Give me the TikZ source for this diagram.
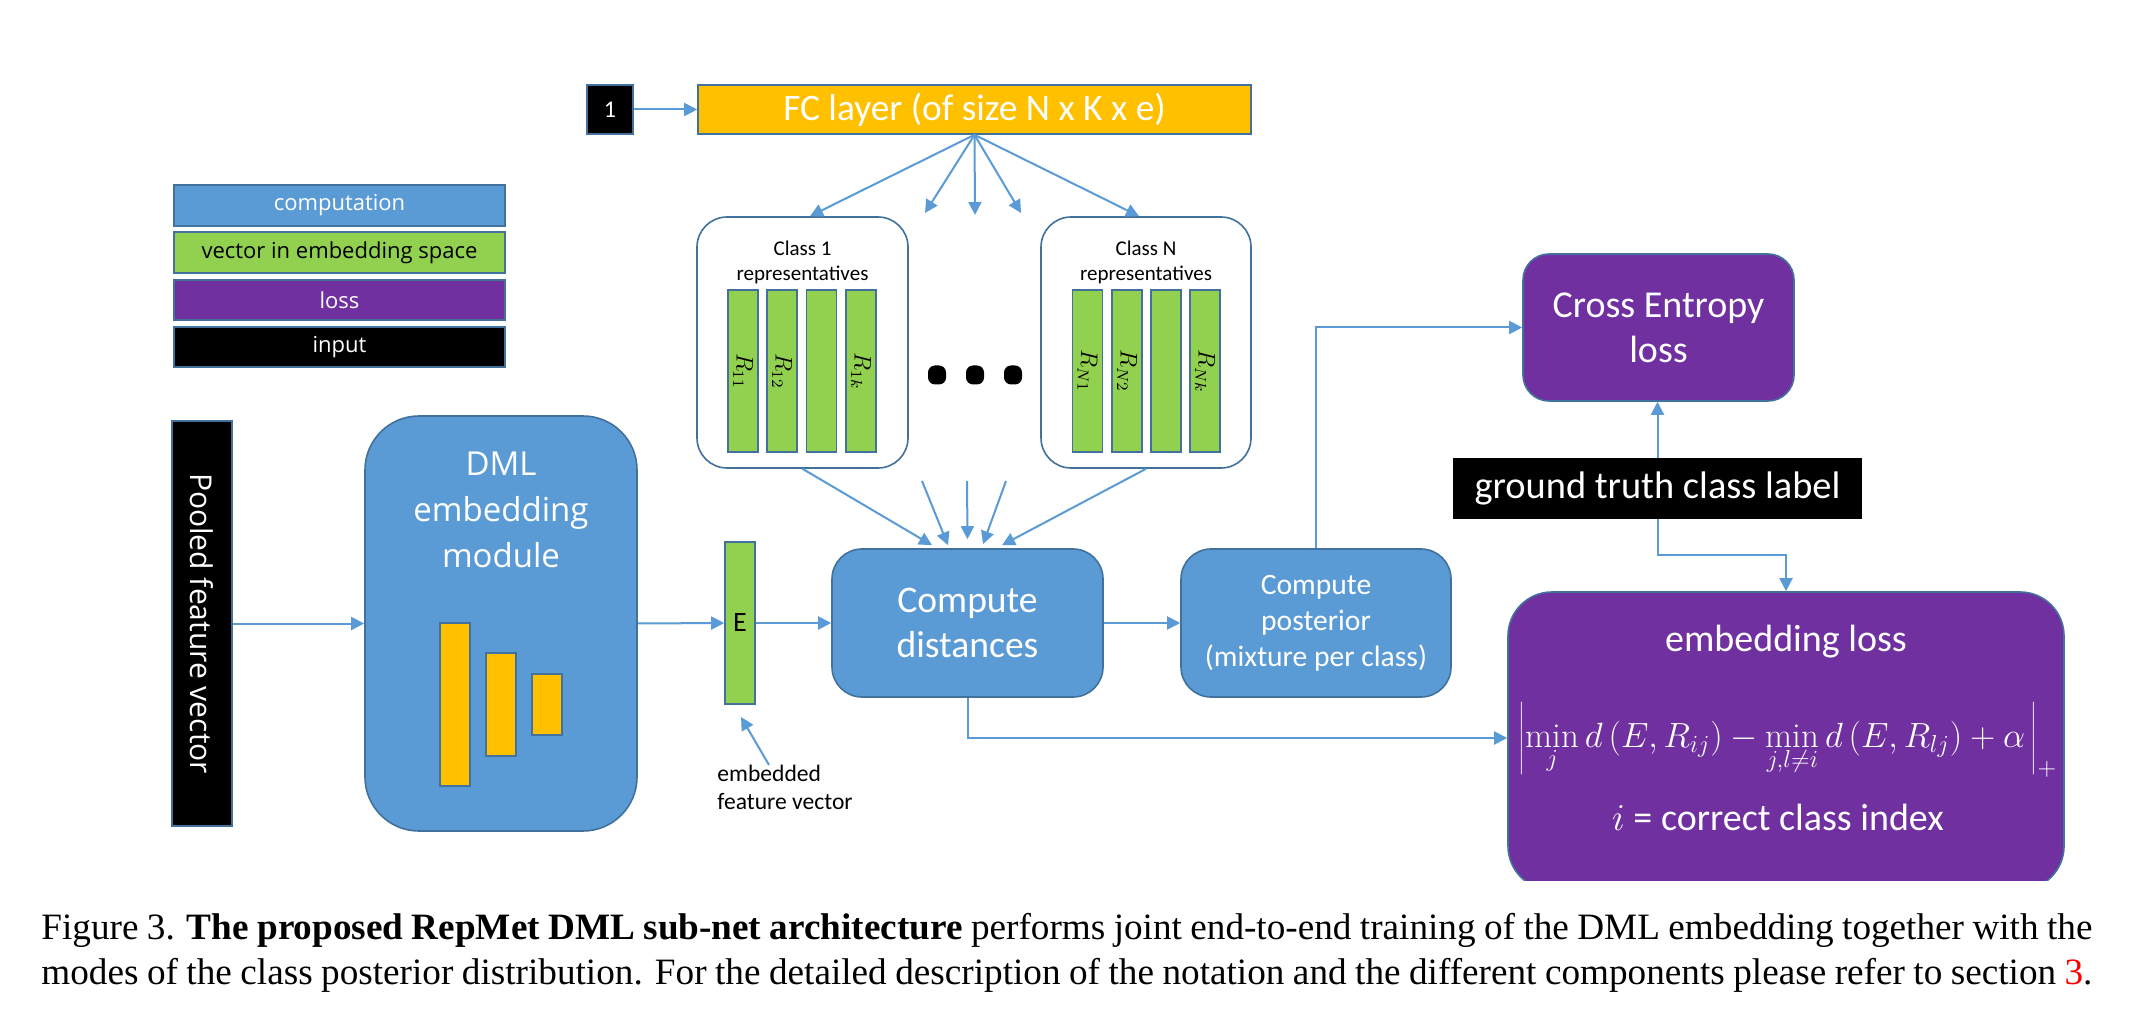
\RequirePackage{fix-cm}
\documentclass[tikz,border=0pt]{standalone}
\usepackage{fontspec}
\usetikzlibrary{arrows.meta,calc}
\newfontfamily\calfont{Carlito}
\newfontfamily\segfont{Open Sans}
\newfontfamily\capfont{Liberation Serif}
\definecolor{cblue}{HTML}{5B9BD5}
\definecolor{cborder}{HTML}{41719C}
\definecolor{cgreen}{HTML}{92D050}
\definecolor{cpurple}{HTML}{7030A0}
\definecolor{corange}{HTML}{FFC000}
\definecolor{carrow}{HTML}{5B9BD5}
\tikzset{
  obox/.style={draw=cborder, line width=0.8pt, inner sep=0pt},
  rbox/.style={draw=cborder, line width=0.8pt, inner sep=0pt},
  arr/.style={draw=carrow, line width=1pt, -{Triangle[length=6.5pt,width=6.5pt]}},
  lnk/.style={draw=carrow, line width=1pt},
  wtxt/.style={text=white, inner sep=0pt, align=center},
}
\begin{document}
\begin{tikzpicture}[x=0.5pt,y=-0.5pt]
\useasboundingbox (0,0) rectangle (2134,1036);
\fill[white] (0,0) rectangle (2134,1036);

% legend
\node[obox, fill=cblue, minimum width=165.5pt, minimum height=20.5pt, text=white, font=\segfont\fontsize{11}{13}\selectfont] (lg1) at (339.5,205.5) {computation};
\node[obox, fill=cgreen, minimum width=165.5pt, minimum height=20.5pt, font=\segfont\fontsize{11}{13}\selectfont] (lg2) at (339.5,252.5) {vector in embedding space};
\node[obox, fill=cpurple, minimum width=165.5pt, minimum height=20pt, text=white, font=\segfont\fontsize{11}{13}\selectfont] (lg3) at (339.5,300) {loss};
\node[obox, fill=black, minimum width=165.5pt, minimum height=20pt, text=white, font=\segfont\fontsize{11}{13}\selectfont] (lg4) at (339.5,347) {input};

% top
\node[obox, fill=black, minimum width=23pt, minimum height=24.5pt, text=white, font=\calfont\fontsize{12}{14}\selectfont] (one) at (610,109.5) {1};
\node[obox, fill=corange, minimum width=276.5pt, minimum height=24.5pt, text=white, font=\calfont\fontsize{18.7}{20}\selectfont] (fc) at (974.5,109.5) {FC layer (of size N x K x e)};

% class boxes
\node[rbox, fill=white, rounded corners=15pt, minimum width=105.5pt, minimum height=125.5pt] (c1) at (802.5,342.5) {};
\node[inner sep=0pt, align=center, font=\calfont\fontsize{10.5}{12.5}\selectfont] (c1t) at (802.5,262) {Class 1\\representatives};
\node[rbox, fill=white, rounded corners=15pt, minimum width=105pt, minimum height=125.5pt] (cN) at (1146,342.5) {};
\node[inner sep=0pt, align=center, font=\calfont\fontsize{10.5}{12.5}\selectfont] (cNt) at (1146,262) {Class N\\representatives};

\tikzset{bar/.style={obox, fill=cgreen, rotate=-90, minimum width=81pt, minimum height=15pt, font=\fontsize{12}{12}\selectfont}}
\node[bar] (r11) at (743,371) {$R_{11}$};
\node[bar] (r12) at (782,371) {$R_{12}$};
\node[bar] (r13) at (821.5,371) {};
\node[bar] (r1k) at (861,371) {$R_{1k}$};
\node[bar] (rn1) at (1087.5,371) {$R_{N1}$};
\node[bar] (rn2) at (1127,371) {$R_{N2}$};
\node[bar] (rn3) at (1166,371) {};
\node[bar] (rnk) at (1205,371) {$R_{Nk}$};

\tikzset{dot/.style={fill=black, rounded corners=3.5pt, minimum width=9pt, minimum height=9.5pt, inner sep=0pt}}
\node[dot] (d1) at (937,375) {};
\node[dot] (d2) at (975,375) {};
\node[dot] (d3) at (1013,375) {};

% left
\node[obox, fill=black, rotate=-90, minimum width=202.5pt, minimum height=30pt, text=white, font=\segfont\fontsize{15}{17}\selectfont] (pool) at (202,623.5) {Pooled feature vector};
\node[rbox, fill=cblue, rounded corners=27pt, minimum width=136pt, minimum height=207.5pt] (dml) at (501,623.5) {};
\node[wtxt, font=\segfont\fontsize{16.5}{23}\selectfont] (dmlt) at (501,510) {DML\\embedding\\module};
\node[obox, fill=corange, minimum width=15pt, minimum height=81.5pt] (o1) at (455,704.5) {};
\node[obox, fill=corange, minimum width=15pt, minimum height=51.5pt] (o2) at (501,704.5) {};
\node[obox, fill=corange, minimum width=15pt, minimum height=30.5pt] (o3) at (547,704.5) {};

\node[obox, fill=cgreen, minimum width=15pt, minimum height=81pt, font=\calfont\fontsize{14}{14}\selectfont] (E) at (740,623) {E};
\node[anchor=north west, inner sep=0pt, align=left, font=\calfont\fontsize{11.8}{14}\selectfont] (emblbl) at (717,765) {embedded\\feature vector};

\node[rbox, fill=cblue, rounded corners=15pt, minimum width=135.5pt, minimum height=74pt, text=white, align=center, font=\calfont\fontsize{18.8}{22.5}\selectfont] (cd) at (967.5,623) {Compute\\distances};
\node[rbox, fill=cblue, rounded corners=15pt, minimum width=135pt, minimum height=74pt, text=white, align=center, font=\calfont\fontsize{14.8}{18}\selectfont] (cp) at (1316,623) {Compute\\posterior\\(mixture per class)};

% right
\node[rbox, fill=cpurple, rounded corners=13pt, minimum width=135.5pt, minimum height=73.5pt, text=white, align=center, font=\calfont\fontsize{19}{22.5}\selectfont] (ce) at (1658.5,327.5) {Cross Entropy\\loss};
\node[fill=black, inner sep=0pt, minimum width=204.5pt, minimum height=30.5pt, text=white, font=\calfont\fontsize{19.2}{22}\selectfont] (gt) at (1657.5,488.5) {ground truth class label};

\begin{scope}
\clip (0,0) rectangle (2134,880);
\node[rbox, fill=cpurple, rounded corners=22pt, minimum width=278pt, minimum height=149pt] (el) at (1786,741) {};
\end{scope}
\node[wtxt, font=\calfont\fontsize{19}{22}\selectfont] (elt) at (1786,642) {embedding loss};
\node[wtxt, font=\fontsize{17.5}{21}\selectfont] (elf) at (1788,740) {$\displaystyle \left|\min_j d\left(E,R_{ij}\right)-\min_{j,l\neq i} d\left(E,R_{lj}\right)+\alpha\,\right|_+$};
\node[wtxt, font=\calfont\fontsize{19}{22}\selectfont] (eli) at (1778,817) {{\fontsize{19}{22}\selectfont$i$} = correct class index};

% connectors
\coordinate (fa1) at (925,213);
\coordinate (fa2) at (975,215);
\coordinate (fa3) at (1021,213);
\coordinate (m1) at (922,481);
\coordinate (m2) at (967,481);
\coordinate (m3) at (1006,481);
\coordinate (etip) at (741,717);

\draw[arr] (one.east) -- (fc.west);
\draw[arr] (fc.south) -- ([xshift=3.75pt]c1.north);
\draw[arr] (fc.south) -- (fa1);
\draw[arr] (fc.south) -- (fa2);
\draw[arr] (fc.south) -- (fa3);
\draw[arr] (fc.south) -- ([xshift=-3.5pt]cN.north);

\draw[arr] (c1.south) -- ([xshift=-17.75pt,yshift=1.5pt]cd.north);
\draw[arr] (m1) -- ([xshift=-9.75pt,yshift=1.5pt]cd.north);
\draw[arr] (m2) -- ([yshift=4.5pt]cd.north);
\draw[arr] (m3) -- ([xshift=7.75pt,yshift=2pt]cd.north);
\draw[arr] (cN.south) -- ([xshift=17.25pt,yshift=1.5pt]cd.north);

\draw[arr] (pool.north) -- (dml.west);
\draw[arr] (dml.east) -- (E.west);
\draw[arr] (E.east) -- (cd.west);
\draw[arr] (cd.east) -- (cp.west);
\draw[arr] (cp.north) |- (ce.west);
\draw[arr] (cd.south) |- ([yshift=1.5pt]el.west);
\draw[arr] (gt.north) -- (gt.north |- ce.south);
\draw[arr] (gt.south) -- ++(0,36) -| (el.north);
\draw[arr] ([xshift=26pt]emblbl.north west) -- (etip);

% caption
\node[anchor=base west, inner sep=0pt, font=\capfont\fontsize{18.6}{22.8}\selectfont] (cap1) at (41,939) {\makebox[1025.5pt][s]{Figure 3. \textbf{The proposed RepMet DML sub-net architecture} performs joint end-to-end training of the DML embedding together with the}};
\node[anchor=base west, inner sep=0pt, font=\capfont\fontsize{18.6}{22.8}\selectfont] (cap2) at (41,984) {\makebox[1025.5pt][s]{modes of the class posterior distribution. For the detailed description of the notation and the different components please refer to section \textcolor{red}{3}.}};
\end{tikzpicture}
\end{document}
